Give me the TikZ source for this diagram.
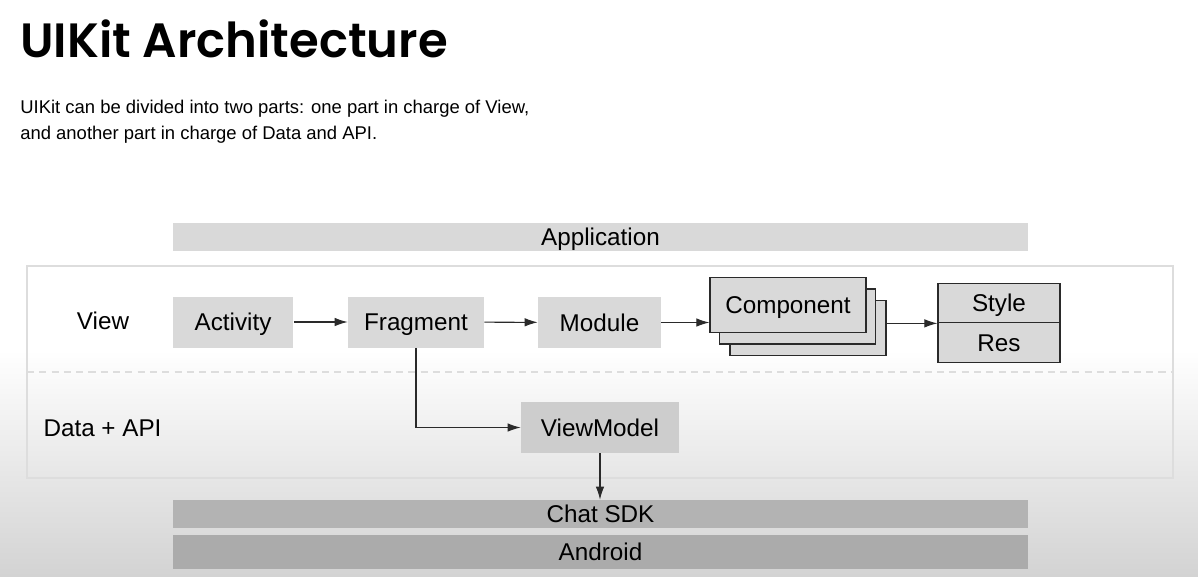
\documentclass[tikz,border=0pt]{standalone}
\usepackage{fontspec}
\setmainfont{Liberation Sans}
\newfontfamily\headfont{Poppins SemiBold}
\usetikzlibrary{arrows.meta}
\definecolor{boxfill}{HTML}{D9D9D9}
\definecolor{vmfill}{HTML}{CDCDCD}
\definecolor{sdkfill}{HTML}{B3B3B3}
\definecolor{droidfill}{HTML}{ABABAB}
\definecolor{framegray}{HTML}{DDDDDD}
\definecolor{linegray}{HTML}{2A2A2A}
\definecolor{fadegray}{HTML}{D3D3D3}
\tikzset{%
    >={Latex[length=2.6mm,width=1.7mm]},
    tag/.style={font=\fontsize{13.8}{16}\selectfont, inner sep=0pt,
        text height=9.9pt, text depth=0pt},
    box/.style={tag, fill=boxfill, minimum height=1.02cm},
    stack/.style={box, draw=linegray, line width=0.7pt,
        minimum width=3.12cm, minimum height=1.1cm},
    layer/.style={tag, minimum width=17.1cm, minimum height=0.56cm},
    flow/.style={->, color=linegray, line width=0.6pt}
}

\begin{document}
\begin{tikzpicture}[x=0.02cm, y=-0.02cm]
    % page and lower fade
    \fill[white] (0,0) rectangle (1198,576);
    \useasboundingbox (0,0) rectangle (1198,576);
    \shade[top color=white, bottom color=fadegray] (0,350) rectangle (1198,576);

    % heading
    \node[anchor=base west, inner sep=0pt,
        font=\headfont\fontsize{27.4}{32}\selectfont] (title) at (20,57) {UIKit Architecture};
    \node[anchor=base west, inner sep=0pt, font=\fontsize{10.5}{14}\selectfont] (intro1) at (20,113)
        {UIKit can be divided into two parts: one part in charge of View,};
    \node[anchor=base west, inner sep=0pt, font=\fontsize{10.5}{14}\selectfont] (intro2) at (20,139)
        {and another part in charge of Data and API.};

    % layers
    \node[layer, fill=boxfill] (app) at (600.5,237) {Application};
    \node[layer, fill=sdkfill] (sdk) at (600.5,514) {Chat SDK};
    \node[layer, fill=droidfill, minimum height=0.68cm] (android) at (600.5,552) {Android};

    % UIKit frame
    \draw[color=framegray, line width=0.7pt] (27,266) rectangle (1173,478);
    \draw[color=framegray, line width=0.6pt, dash pattern=on 4pt off 3pt] (27,372) -- (1173,372);
    \node[tag] (view) at (103,321) {View};
    \node[tag] (data) at (102.5,428) {Data + API};

    % view part
    \node[box, minimum width=2.42cm] (activity) at (233,322) {Activity};
    \node[box, minimum width=2.72cm] (fragment) at (416,322) {Fragment};
    \node[box, minimum width=2.46cm] (module) at (599.5,322.5) {Module};
    \node[stack] (comp3) at (808,328) {};
    \node[stack] (comp2) at (797.5,316.5) {};
    \node[stack] (comp1) at (788,305) {Component};
    \node[box, draw=linegray, line width=0.7pt, minimum width=2.44cm, minimum height=0.79cm] (style) at (999,303) {Style};
    \node[box, draw=linegray, line width=0.7pt, minimum width=2.44cm, minimum height=0.79cm] (res) at (999,342.5) {Res};

    % data part
    \node[box, fill=vmfill, minimum width=3.16cm] (viewmodel) at (600,427.5) {ViewModel};

    % connectors
    \draw[flow] (activity) -- (fragment);
    \draw[flow] (fragment) -- (module);
    \draw[flow] (module.east) -- (module.east -| comp1.west);
    \draw[flow] (comp3.east |- style.south west) -- (style.south west);
    \draw[flow] (fragment.south) |- (viewmodel.west);
    \draw[flow] (viewmodel.south) -- (viewmodel.south |- sdk.north);
\end{tikzpicture}
\end{document}
